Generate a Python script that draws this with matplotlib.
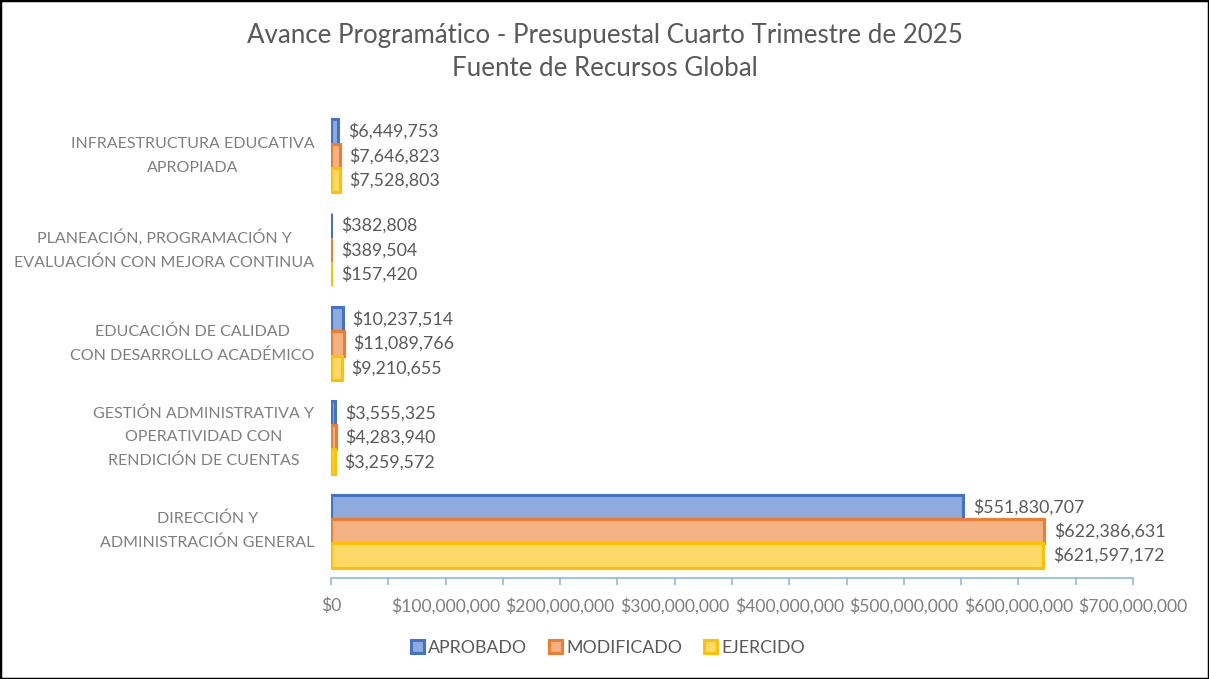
import matplotlib
matplotlib.use("Agg")
import matplotlib.pyplot as plt
from matplotlib.patches import Rectangle, Patch
from matplotlib.ticker import MultipleLocator, FuncFormatter

categories = [
    "DIRECCIÓN Y\nADMINISTRACIÓN GENERAL",
    "GESTIÓN ADMINISTRATIVA Y\nOPERATIVIDAD CON\nRENDICIÓN DE CUENTAS",
    "EDUCACIÓN DE CALIDAD\nCON DESARROLLO ACADÉMICO",
    "PLANEACIÓN, PROGRAMACIÓN Y\nEVALUACIÓN CON MEJORA CONTINUA",
    "INFRAESTRUCTURA EDUCATIVA\nAPROPIADA",
]
series_names = ["APROBADO", "MODIFICADO", "EJERCIDO"]
aprobado = [551830707, 3555325, 10237514, 382808, 6449753]
modificado = [622386631, 4283940, 11089766, 389504, 7646823]
ejercido = [621597172, 3259572, 9210655, 157420, 7528803]
title_lines = ["Avance Programático - Presupuestal Cuarto Trimestre de 2025", "Fuente de Recursos Global"]

edge_colors = ["#4472C4", "#ED7D31", "#FFC000"]
fill_colors = ["#8FAADC", "#F4B183", "#FFD966"]
text_gray = "#595959"
label_gray = "#7F7F7F"
axis_blue = "#8DB8E2"

plt.rcParams['font.family'] = ['Lato', 'DejaVu Sans']

fig = plt.figure(figsize=(12.09, 6.79), dpi=100)
ax = fig.add_axes([331/1209, 1-578/679, (1133-331)/1209, (578-109)/679])

bar_h = 0.26
series = [aprobado, modificado, ejercido]
offsets = [bar_h, 0, -bar_h]
for vals, off, ec, fc in zip(series, offsets, edge_colors, fill_colors):
    ypos = [i + off for i in range(len(categories))]
    ax.barh(ypos, vals, height=bar_h, color=fc, edgecolor=ec, linewidth=2.2)
    for y, v in zip(ypos, vals):
        ax.annotate("${:,.0f}".format(v), xy=(v, y), xytext=(7, 0), textcoords="offset points",
                    ha="left", va="center", fontsize=12.8, color=text_gray)

ax.set_xlim(0, 700000000)
ax.set_ylim(-0.5, len(categories) - 0.5)
ax.set_yticks(range(len(categories)))
ax.set_yticklabels(categories, fontsize=11.5, color=label_gray, linespacing=1.85)
for t in ax.get_yticklabels():
    t.set_multialignment("center")
    t.set_verticalalignment("center")
ax.tick_params(axis="y", length=0, pad=12)

ax.xaxis.set_major_locator(MultipleLocator(50000000))
ax.xaxis.set_major_formatter(FuncFormatter(
    lambda x, p: ("${:,.0f}".format(x) if round(x / 50000000) % 2 == 0 else "")))
ax.tick_params(axis="x", length=5, width=1.2, color=axis_blue, labelsize=12.6,
               labelcolor=label_gray, pad=9, direction="out")

for s in ["top", "right", "left"]:
    ax.spines[s].set_visible(False)
ax.spines["bottom"].set_color(axis_blue)
ax.spines["bottom"].set_linewidth(1.2)

fig.text(0.5, 1-36/679, title_lines[0], ha="center", va="center", fontsize=18.6, color=text_gray)
fig.text(0.5, 1-68/679, title_lines[1], ha="center", va="center", fontsize=18.6, color=text_gray)

handles = [Patch(facecolor=fc, edgecolor=ec, linewidth=2.2) for fc, ec in zip(fill_colors, edge_colors)]
fig.legend(handles, series_names, loc="center", bbox_to_anchor=(608/1209, 1-648/679), ncol=3,
           frameon=False, fontsize=12.8, labelcolor=text_gray, handlelength=0.75, handleheight=0.75,
           handletextpad=0.25, columnspacing=1.2)

fig.patches.append(Rectangle((0, 0), 1, 1, transform=fig.transFigure, fill=False,
                             edgecolor="black", linewidth=2.5))

fig.savefig("out.png", dpi=100)
